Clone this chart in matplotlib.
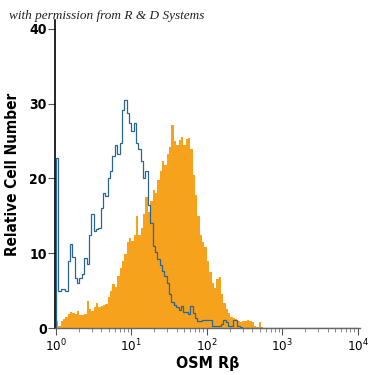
#Histograma de citometria (OSM Rbeta) com eixo x logaritmico
import numpy as np
import matplotlib
matplotlib.use('Agg')
from matplotlib import pyplot as plt
from matplotlib.ticker import LogLocator, NullFormatter

#Dados (128 bins logaritmicos de 10^0 a 10^4)
n_bins = 128
controle = [22.7, 5.0, 5.2, 5.2, 5.0, 9.0, 11.3, 9.5, 6.7, 6.0,
            6.7, 7.2, 9.4, 8.6, 12.5, 15.3, 13.0, 13.2, 13.4, 16.1,
            18.0, 17.7, 20.1, 21.0, 23.0, 24.5, 23.3, 24.7, 29.1, 30.5,
            28.7, 27.4, 26.4, 27.4, 24.8, 24.0, 22.4, 20.1, 21.0, 16.5,
            14.0, 11.0, 10.2, 9.2, 8.5, 7.6, 7.0, 6.0, 4.6, 3.5,
            3.1, 2.8, 2.4, 3.0, 2.2, 2.2, 1.9, 3.0, 2.0, 1.3,
            1.0, 0.9, 1.1, 1.1, 1.1, 1.1, 0.3, 0.3, 0.3, 0.3,
            0.5, 1.1, 0.8, 0.3, 0.3, 1.1, 1.1, 0.3, 0.2, 0.0] + [0.0] * 48
amostra = [1.0, 0.3, 0.9, 1.2, 1.5, 1.9, 2.2, 2.0, 1.9, 2.3,
           1.8, 1.7, 1.9, 3.6, 2.5, 2.3, 2.8, 3.4, 2.8, 3.0,
           3.1, 3.2, 4.2, 5.0, 5.9, 5.5, 7.0, 8.0, 9.0, 9.9,
           11.5, 12.0, 11.7, 12.5, 15.0, 12.5, 13.4, 15.3, 17.5, 15.5,
           17.0, 18.4, 18.0, 19.8, 21.0, 22.4, 21.8, 23.3, 24.2, 27.2,
           25.0, 24.5, 25.1, 25.5, 24.5, 25.3, 25.4, 24.0, 20.5, 17.8,
           15.0, 12.5, 11.5, 10.8, 9.0, 7.5, 6.0, 5.3, 6.5, 6.9,
           4.5, 3.3, 2.6, 2.0, 1.5, 1.3, 1.2, 1.0, 0.8, 1.0,
           1.0, 1.1, 1.0, 0.8, 0.3, 0.2, 0.8, 0.1] + [0.0] * 40
y_ticks = [0, 10, 20, 30, 40]
x_ticks = [1, 10, 100, 1000, 10000]
x_labels = ['$10^0$', '$10^1$', '$10^2$', '$10^3$', '$10^4$']

bordas = np.logspace(0, 4, n_bins + 1)

plt.rcParams['font.family'] = ['DejaVu Sans']
plt.rcParams['font.stretch'] = 'condensed'
plt.rcParams['mathtext.fontset'] = 'custom'
plt.rcParams['mathtext.rm'] = 'DejaVu Sans:stretch=condensed'

fig = plt.figure(figsize=(3.75, 3.75), dpi=100)
ax = fig.add_axes([0.147, 0.125, 0.813, 0.822])

#Histograma preenchido (amostra) e contorno (controle)
ax.stairs(amostra, bordas, fill=True, color='#F7A21C', linewidth=0)
ax.stairs(controle, bordas, color='#2B6690', linewidth=0.9)

ax.set_xscale('log')
ax.set_xlim(10 ** -0.01, 10 ** 4.03)
ax.set_ylim(0, 41.2)

ax.set_yticks(y_ticks)
ax.set_yticklabels([str(v) for v in y_ticks])
ax.set_xticks(x_ticks)
ax.set_xticklabels(x_labels)
ax.xaxis.set_minor_locator(LogLocator(base=10, subs=np.arange(2, 10)))
ax.xaxis.set_minor_formatter(NullFormatter())

ax.tick_params(axis='y', direction='out', length=5, width=0.8, color='#555555',
               labelsize=10, pad=1)
ax.tick_params(axis='x', which='major', direction='out', length=5, width=0.8,
               color='#555555', labelsize=9.5, pad=2)
ax.tick_params(axis='x', which='minor', direction='out', length=3, width=0.6,
               color='#777777')
for lab in ax.get_yticklabels():
    lab.set_fontweight('bold')

for lado in ['top', 'right']:
    ax.spines[lado].set_visible(False)
ax.spines['left'].set_color('black')
ax.spines['left'].set_linewidth(1.2)
ax.spines['bottom'].set_color('#666666')
ax.spines['bottom'].set_linewidth(1.0)

ax.set_xlabel('OSM R\u03b2', fontsize=11.5, fontweight='bold')
ax.xaxis.set_label_coords(0.5, -0.092)
ax.set_ylabel('Relative Cell Number', fontsize=11, fontweight='bold')
ax.yaxis.set_label_coords(-0.115, 0.5)

#Texto de permissao no topo
fig.text(0.025, 0.95, 'with permission from R & D Systems', fontsize=9.5,
         family='Liberation Serif', style='italic', color='#222222',
         stretch='normal')

fig.savefig('out.png', dpi=100)
